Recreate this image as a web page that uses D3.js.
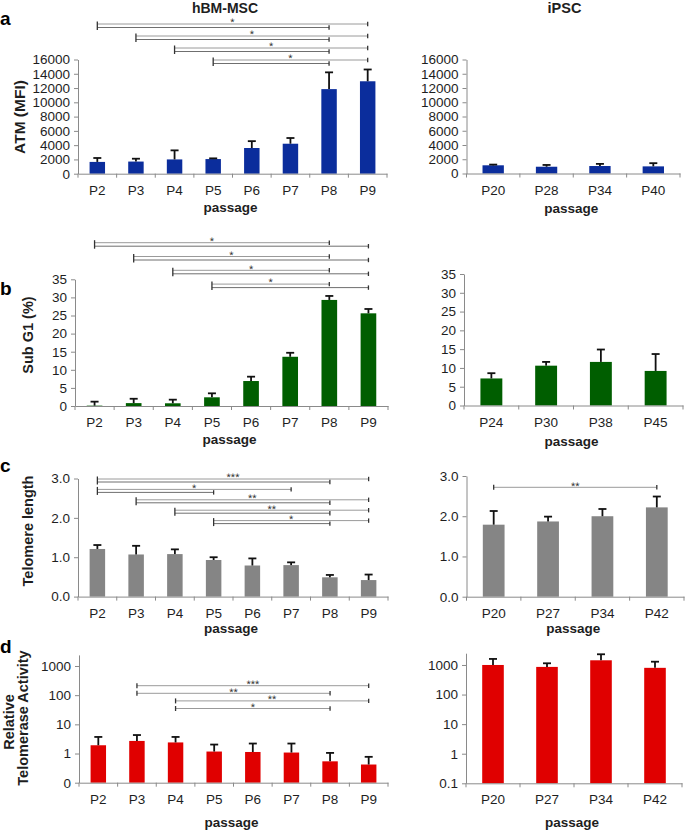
<!DOCTYPE html>
<html><head><meta charset="utf-8">
<script src="https://cdn.jsdelivr.net/npm/d3@7"></script>
<style>
body{margin:0;background:#fff}
svg{display:block}
text{font-family:"Liberation Sans",Arial,sans-serif}
</style>
</head><body>
<svg id="chart" width="685" height="830"></svg>
<script>
// ---------- DATA ----------
const mscCats = ["P2","P3","P4","P5","P6","P7","P8","P9"];

const atmMscVals = [1650, 1700, 2000, 2050, 3600, 4200, 11850, 12950];
const atmMscErr  = [550, 400, 1270, 100, 960, 800, 2350, 1650];
const atmIpscCats = ["P20","P28","P34","P40"];
const atmIpscVals = [1150, 950, 1050, 1000];
const atmIpscErr  = [100, 250, 300, 450];
const atmTicks = [0,2000,4000,6000,8000,10000,12000,14000,16000];
const atmTickLabels = ["0","2000","4000","6000","8000","10000","12000","14000","16000"];

const subMscVals = [0.1, 0.8, 0.75, 2.4, 6.9, 13.6, 29.3, 25.6];
const subMscErr  = [1.1, 1.2, 1.0, 1.1, 1.2, 1.1, 1.1, 1.2];
const subIpscCats = ["P24","P30","P38","P45"];
const subIpscVals = [7.2, 10.6, 11.6, 9.2];
const subIpscErr  = [1.4, 1.0, 3.3, 4.5];
const subTicks = [0,5,10,15,20,25,30,35];
const subTickLabels = ["0","5","10","15","20","25","30","35"];

const telMscVals = [1.21, 1.07, 1.08, 0.93, 0.79, 0.80, 0.49, 0.42];
const telMscErr  = [0.10, 0.22, 0.12, 0.07, 0.18, 0.07, 0.06, 0.14];
const telIpscCats = ["P20","P27","P34","P42"];
const telIpscVals = [1.79, 1.87, 2.00, 2.22];
const telIpscErr  = [0.34, 0.12, 0.18, 0.27];
const telTicks = [0,1,2,3];
const telTickLabels = ["0.0","1.0","2.0","3.0"];

const terMscVals = [1.92, 2.7, 2.4, 1.17, 1.13, 1.08, 0.54, 0.42];
const terMscErr  = [1.78, 1.6, 1.3, 0.86, 1.07, 1.12, 0.51, 0.35];
const terIpscCats = ["P20","P27","P34","P42"];
const terIpscVals = [1000, 860, 1440, 800];
const terIpscErr  = [600, 280, 860, 490];
const terTicks = [0.1,1,10,100,1000];
const terMscTickLabels = ["0","1","10","100","1000"];
const terIpscTickLabels = ["0.1","1","10","100","1000"];

const atmMscSig = [
  {from:"P2", to:["P9","P8"], label:"*"},
  {from:"P3", to:["P9","P8"], label:"*"},
  {from:"P4", to:["P9","P8"], label:"*"},
  {from:"P5", to:["P9","P8"], label:"*"}
];
const subMscSig = [
  {from:"P2", to:["P8","P9"], label:"*"},
  {from:"P3", to:["P8","P9"], label:"*"},
  {from:"P4", to:["P8","P9"], label:"*"},
  {from:"P5", to:["P8","P9"], label:"*"}
];
const telMscSig = [
  {from:"P2", to:["P9","P8"], label:"***"},
  {from:"P2", to:["P7","P5"], label:"*"},
  {from:"P3", to:["P9","P8"], label:"**"},
  {from:"P4", to:["P9","P8"], label:"**"},
  {from:"P5", to:["P9","P8"], label:"*"}
];
const telIpscSig = [ {from:"P20", to:["P42"], label:"**"} ];
const terMscSig = [
  {from:"P3", to:["P9"], label:"***"},
  {from:"P3", to:["P8"], label:"**"},
  {from:"P4", to:["P9"], label:"**"},
  {from:"P4", to:["P8"], label:"*"}
];

// ---------- LAYOUT ----------
const BLUE = "#0b2d9c", GREEN = "#005e00", GRAY = "#858585", RED = "#e00000";
const AXIS = "#8a8a8a", INK = "#1e1e1e";

const panels = [
  {cats:mscCats, vals:atmMscVals, errs:atmMscErr, color:BLUE, x0:78, x1:387, yBase:173.7, yTop:59.5,
   domain:[0,16000], ticks:atmTicks, labels:atmTickLabels, sig:atmMscSig, brY:24, brStep:12, brDy:3.5, passOff:38.5},
  {cats:atmIpscCats, vals:atmIpscVals, errs:atmIpscErr, color:BLUE, x0:466.5, x1:680, yBase:173.5, yTop:59.5,
   domain:[0,16000], ticks:atmTicks, labels:atmTickLabels, sig:[], passOff:39.5},
  {cats:mscCats, vals:subMscVals, errs:subMscErr, color:GREEN, x0:75, x1:388, yBase:406, yTop:279.3,
   domain:[0,35], ticks:subTicks, labels:subTickLabels, sig:subMscSig, brY:242.7, brStep:13.8, brDy:3.5, passOff:37.5},
  {cats:subIpscCats, vals:subIpscVals, errs:subIpscErr, color:GREEN, x0:464, x1:683, yBase:405.5, yTop:274,
   domain:[0,35], ticks:subTicks, labels:subTickLabels, sig:[], passOff:40},
  {cats:mscCats, vals:telMscVals, errs:telMscErr, color:GRAY, x0:78, x1:388, yBase:596.6, yTop:478.5,
   domain:[0,3], ticks:telTicks, labels:telTickLabels, sig:telMscSig, brY:479, brStep:10.4, brDy:3, passOff:36.5},
  {cats:telIpscCats, vals:telIpscVals, errs:telIpscErr, color:GRAY, x0:466.5, x1:684, yBase:596.7, yTop:476,
   domain:[0,3], ticks:telTicks, labels:telTickLabels, sig:telIpscSig, brY:487.3, brStep:0, brDy:3, passOff:36.5},
  {cats:mscCats, vals:terMscVals, errs:terMscErr, color:RED, x0:79, x1:388, yBase:782.7, yTop:654.9, log:true,
   domain:[0.1,2400], ticks:terTicks, labels:terMscTickLabels, sig:terMscSig, brY:685.7, brStep:7.6, brDy:3, passOff:44.5},
  {cats:terIpscCats, vals:terIpscVals, errs:terIpscErr, color:RED, x0:466, x1:682, yBase:783.3, yTop:653.2, log:true,
   domain:[0.1,2500], ticks:terTicks, labels:terIpscTickLabels, sig:[], passOff:44}
];

const svg = d3.select("#chart");

function drawPanel(p){
  const g = svg.append("g");
  const x = d3.scaleBand().domain(p.cats).range([p.x0, p.x1]).paddingInner(0.6).paddingOuter(0.3);
  const y = (p.log ? d3.scaleLog() : d3.scaleLinear()).domain(p.domain).range([p.yBase, p.yTop]);
  const bw = x.bandwidth();
  const cx = c => x(c) + bw/2;

  // bars
  g.selectAll("rect.bar").data(p.cats).join("rect").attr("class","bar")
    .attr("x", c => x(c)).attr("width", bw)
    .attr("y", (c,i) => y(p.vals[i])).attr("height", (c,i) => p.yBase - y(p.vals[i]))
    .attr("fill", p.color);

  // error bars
  const eb = g.selectAll("g.eb").data(p.cats).join("g").attr("class","eb")
    .attr("stroke", "#111").attr("stroke-width", 1.8);
  eb.append("line").attr("x1", c => cx(c)).attr("x2", c => cx(c))
    .attr("y1", (c,i) => y(p.vals[i])).attr("y2", (c,i) => y(p.vals[i] + p.errs[i]));
  eb.append("line").attr("x1", c => cx(c) - 4).attr("x2", c => cx(c) + 4)
    .attr("y1", (c,i) => y(p.vals[i] + p.errs[i])).attr("y2", (c,i) => y(p.vals[i] + p.errs[i]));

  // y axis
  const ya = g.append("g").attr("transform", `translate(${p.x0},0)`)
    .call(d3.axisLeft(y).tickValues(p.ticks).tickFormat((d,i) => p.labels[i])
      .tickSizeInner(4).tickSizeOuter(0).tickPadding(4));
  ya.select(".domain").attr("stroke", AXIS);
  ya.selectAll(".tick line").attr("stroke", AXIS);
  ya.selectAll(".tick text").attr("font-size", 13.5).attr("fill", INK)
    .attr("font-family", "Liberation Sans, Arial, sans-serif");

  // x axis
  const xa = g.append("g").attr("transform", `translate(0,${p.yBase})`)
    .call(d3.axisBottom(x).tickSize(0).tickPadding(11.5));
  xa.select(".domain").attr("stroke", AXIS);
  xa.selectAll(".tick text").attr("font-size", 13.5).attr("fill", INK)
    .attr("font-family", "Liberation Sans, Arial, sans-serif");
  const bounds = d3.range(p.cats.length + 1).map(i => p.x0 + i * x.step());
  xa.selectAll("line.bt").data(bounds).join("line").attr("class","bt")
    .attr("x1", d => d).attr("x2", d => d).attr("y1", 0).attr("y2", 4).attr("stroke", AXIS);

  // x title
  g.append("text").attr("x", (p.x0 + p.x1)/2 - 2).attr("y", p.yBase + p.passOff)
    .attr("text-anchor","middle").attr("font-weight","bold").attr("font-size",13.5)
    .attr("fill", INK).text("passage");

  // significance brackets
  p.sig.forEach((s, k) => {
    const yU = p.brY + k * p.brStep;
    const xs = cx(s.from);
    const bg = g.append("g");
    s.to.forEach((t, j) => {
      const yy = yU + j * p.brDy;
      bg.append("line").attr("x1", xs).attr("x2", cx(t)).attr("y1", yy).attr("y2", yy)
        .attr("stroke", j === 0 ? "#9a9a9a" : "#6f6f6f").attr("stroke-width", 1);
      bg.append("line").attr("x1", cx(t)).attr("x2", cx(t)).attr("y1", yy - 2.2).attr("y2", yy + 2.2)
        .attr("stroke", "#333").attr("stroke-width", 1.3);
    });
    bg.append("line").attr("x1", xs).attr("x2", xs)
      .attr("y1", yU - 2.5).attr("y2", yU + (s.to.length - 1) * p.brDy + 2.5)
      .attr("stroke", "#333").attr("stroke-width", 1.3);
    bg.append("text").attr("x", (xs + cx(s.to[0]))/2).attr("y", yU + 2.3)
      .attr("text-anchor","middle").attr("font-size",11).attr("fill","#333")
      .style("text-rendering","geometricPrecision").text(s.label);
  });
}

panels.forEach(drawPanel);

// column titles
svg.append("text").attr("x",225).attr("y",12.5).attr("text-anchor","middle")
  .attr("font-weight","bold").attr("font-size",14).attr("fill",INK).text("hBM-MSC");
svg.append("text").attr("x",564.5).attr("y",12.5).attr("text-anchor","middle")
  .attr("font-weight","bold").attr("font-size",14.5).attr("fill",INK).text("iPSC");

// panel letters
const letters = [["a",0,25],["b",0,295],["c",0,472],["d",0,653]];
svg.selectAll("text.letter").data(letters).join("text").attr("class","letter")
  .attr("x", d => d[1]).attr("y", d => d[2]).attr("font-weight","bold").attr("font-size",19)
  .attr("fill","#000").text(d => d[0]);

// y titles
const ytitles = [["ATM (MFI)",19,117,15.5],["Sub G1 (%)",28,335,14.5],["Telomere length",28,531,14.5],
                 ["Relative",9,722,14.5],["Telomerase Activity",22.5,718,14.5]];
svg.selectAll("text.yt").data(ytitles).join("text").attr("class","yt")
  .attr("transform", d => `translate(${d[1]},${d[2]}) rotate(-90)`)
  .attr("text-anchor","middle").attr("dominant-baseline","central")
  .attr("font-weight","bold").attr("font-size", d => d[3]).attr("fill",INK).text(d => d[0]);
</script>
</body></html>
